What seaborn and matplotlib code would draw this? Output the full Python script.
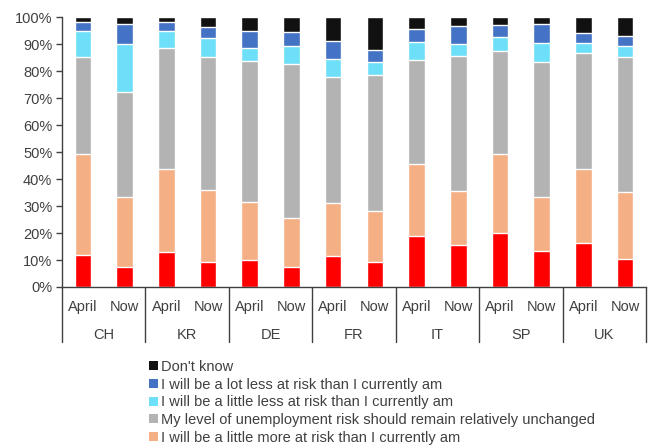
import numpy as np
import pandas as pd
import matplotlib
matplotlib.use("Agg")
import matplotlib.pyplot as plt
from matplotlib.patches import Patch
from matplotlib.lines import Line2D
import seaborn as sns

# Survey responses (% of respondents) per country, April vs now
countries = ["CH", "KR", "DE", "FR", "IT", "SP", "UK"]
periods = ["April", "Now"]

lot_more = [12.0, 7.4, 12.9, 9.3, 9.9, 7.4, 11.5, 9.2, 18.8, 15.7, 20.0, 13.2, 16.2, 10.3]
little_more = [37.1, 25.9, 30.7, 26.8, 21.4, 18.2, 19.7, 18.9, 26.7, 19.8, 29.1, 20.1, 27.5, 25.0]
unchanged = [36.0, 39.1, 45.1, 49.0, 52.5, 56.9, 46.5, 50.6, 38.7, 50.1, 38.4, 50.2, 42.9, 49.8]
little_less = [9.9, 17.7, 6.0, 7.2, 4.8, 6.9, 6.8, 4.5, 6.6, 4.4, 5.0, 6.8, 3.7, 4.3]
lot_less = [3.0, 7.3, 3.4, 4.0, 6.1, 5.0, 6.7, 4.4, 4.9, 6.5, 4.7, 7.1, 3.8, 3.4]
dont_know = [2.0, 2.6, 1.9, 3.7, 5.3, 5.6, 8.8, 12.4, 4.3, 3.5, 2.8, 2.6, 5.9, 7.2]

series_labels = [
    "I will be a lot more at risk than I currently am",
    "I will be a little more at risk than I currently am",
    "My level of unemployment risk should remain relatively unchanged",
    "I will be a little less at risk than I currently am",
    "I will be a lot less at risk than I currently am",
    "Don't know",
]
series_values = [lot_more, little_more, unchanged, little_less, lot_less, dont_know]
series_colors = ["#FF0000", "#F4AF84", "#B3B3B3", "#6EDFF8", "#4472C4", "#111111"]

bar_ids = [f"{c}-{p}" for c in countries for p in periods]
cum = np.cumsum(np.array(series_values), axis=0)

sns.set_theme(style="white")
plt.rcParams["font.family"] = ["Liberation Sans Narrow", "Liberation Sans", "DejaVu Sans"]
text_color = "#404040"

fig = plt.figure(figsize=(6.5, 4.48), dpi=100)
ax = fig.add_axes([62 / 650, 1 - 287 / 448, 584 / 650, 270 / 448])

# stacked bars: draw cumulative totals from the top layer down
for i in range(len(series_values) - 1, -1, -1):
    df = pd.DataFrame({"bar": bar_ids, "value": cum[i]})
    sns.barplot(data=df, x="bar", y="value", order=bar_ids, color=series_colors[i],
                width=0.4, saturation=1, ax=ax, errorbar=None)

ax.set_xlim(-0.5, len(bar_ids) - 0.5)
ax.set_ylim(0, 100)
ax.set_yticks(np.arange(0, 101, 10))
ax.set_yticklabels([f"{v}%" for v in range(0, 101, 10)], fontsize=10.5, color=text_color)
ax.set_xticks([])
ax.set_xlabel("")
ax.set_ylabel("")
ax.tick_params(axis="y", direction="out", length=4, width=1, color="#404040", pad=3, left=True)

for s in ["top", "right"]:
    ax.spines[s].set_visible(False)
for s in ["left", "bottom"]:
    ax.spines[s].set_color("#404040")
    ax.spines[s].set_linewidth(1.0)

# two-level category axis
axis_h = 270.0
sep_bottom = -55 / axis_h
for k in range(len(countries) + 1):
    xpos = -0.5 + 2 * k
    ax.add_line(Line2D([xpos, xpos], [0, sep_bottom], transform=ax.get_xaxis_transform(),
                       color="#404040", lw=1.0, clip_on=False))
for j, bid in enumerate(bar_ids):
    ax.text(j, -20 / axis_h, bid.split("-")[1], transform=ax.get_xaxis_transform(),
            ha="center", va="center", fontsize=10.5, color=text_color)
for k, c in enumerate(countries):
    ax.text(2 * k + 0.5, -48 / axis_h, c, transform=ax.get_xaxis_transform(),
            ha="center", va="center", fontsize=10.5, color=text_color)

# legend lists the categories from the top of the stack downwards
legend_order = [5, 4, 3, 2, 1]
handles = [Patch(facecolor=series_colors[i], edgecolor="none") for i in legend_order]
labels = [series_labels[i] for i in legend_order]
leg = fig.legend(handles, labels, loc="upper left", bbox_to_anchor=(149 / 650, 1 - 360 / 448),
                 frameon=False, fontsize=10.5, handlelength=0.6, handleheight=0.6,
                 handletextpad=0.25, labelspacing=0.25, borderaxespad=0, borderpad=0)
for t in leg.get_texts():
    t.set_color(text_color)

fig.savefig("out.png", dpi=100)
